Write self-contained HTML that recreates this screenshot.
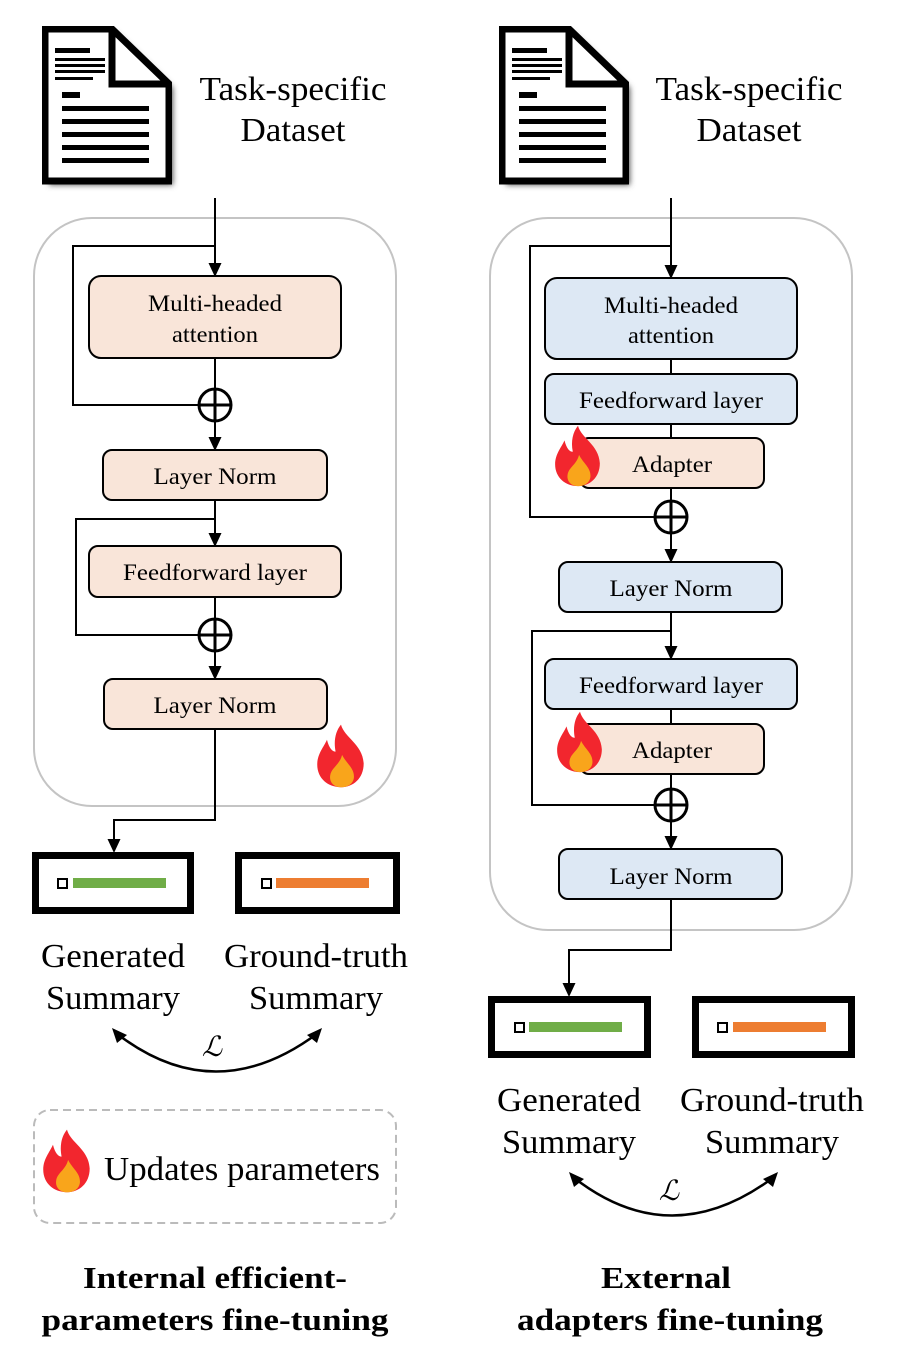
<!DOCTYPE html>
<html><head><meta charset="utf-8"><style>
html,body{margin:0;padding:0;background:#fff;}
svg{display:block;font-family:"Liberation Serif",serif;}
</style></head><body>
<svg width="897" height="1356" viewBox="0 0 897 1356" xmlns="http://www.w3.org/2000/svg">
<defs>
<marker id="ah" markerWidth="14" markerHeight="14" refX="12" refY="7" orient="auto" markerUnits="userSpaceOnUse">
<path d="M0,0.5 L14,7 L0,13.5 Z" fill="#000"/></marker>
<filter id="blur" x="-20%" y="-20%" width="140%" height="140%"><feGaussianBlur stdDeviation="3"/></filter>
<symbol id="fire" viewBox="0 0 50 60">
<path d="M25 0 C28 12 45 18 46 36 C46 50 36 58 25 58 C13 58 3 50 3 37 C3 27 9 21 12 14 C14 22 17 25 20 25 C18 15 20 6 25 0 Z" fill="#f2262e"/>
<path d="M26 28 C30 36 37 40 37 48 C37 54 32 58 25 58 C18 58 14 53 15 47 C16 40 24 37 26 28 Z" fill="#f9a51b"/>
</symbol>
<symbol id="docsh" viewBox="0 0 130 160">
<path d="M3 3 H70 L127 58 V155 H3 Z" fill="#555"/>
</symbol>
<symbol id="doc" viewBox="0 0 130 160">
<path d="M3 3 H70 L127 58 V155 H3 Z" fill="#fff" stroke="#000" stroke-width="7"/>
<path d="M70 3 V58 H127" fill="none" stroke="#000" stroke-width="7"/>
<g fill="#000">
<rect x="13" y="22" width="35" height="5"/><rect x="13" y="32" width="50" height="3"/>
<rect x="13" y="38" width="50" height="3"/><rect x="13" y="44" width="50" height="3"/>
<rect x="13" y="51" width="38" height="3"/><rect x="20" y="66" width="18" height="6"/>
<rect x="20" y="80" width="87" height="5"/><rect x="20" y="93" width="87" height="5"/>
<rect x="20" y="106" width="87" height="5"/><rect x="20" y="119" width="87" height="5"/>
<rect x="20" y="132" width="87" height="5"/></g>
</symbol>
</defs>

<!-- LEFT -->
<use href="#docsh" x="46" y="30" width="130" height="160" filter="url(#blur)"/>
<use href="#doc" x="42" y="26" width="130" height="160"/>
<g font-size="34" text-anchor="middle" lengthAdjust="spacingAndGlyphs">
<text x="293" y="100" textLength="187" lengthAdjust="spacingAndGlyphs">Task-specific</text>
<text x="293" y="141" textLength="105" lengthAdjust="spacingAndGlyphs">Dataset</text>
</g>
<rect x="34" y="218" width="362" height="588" rx="58" fill="none" stroke="#c4c4c4" stroke-width="2"/>
<g stroke="#000" stroke-width="2" fill="none">
<line x1="215" y1="198" x2="215" y2="275" marker-end="url(#ah)"/>
<polyline points="215,246 73,246 73,405 199,405"/>
<line x1="215" y1="358" x2="215" y2="389"/>
<line x1="215" y1="421" x2="215" y2="449" marker-end="url(#ah)"/>
<line x1="215" y1="500" x2="215" y2="545" marker-end="url(#ah)"/>
<polyline points="215,519 76,519 76,635 199,635"/>
<line x1="215" y1="597" x2="215" y2="619"/>
<line x1="215" y1="651" x2="215" y2="678" marker-end="url(#ah)"/>
<polyline points="215,729 215,820 114,820 114,851" marker-end="url(#ah)"/>
<circle cx="215" cy="405" r="16" stroke-width="3"/><line x1="199" y1="405" x2="231" y2="405" stroke-width="3"/><line x1="215" y1="389" x2="215" y2="421" stroke-width="3"/>
<circle cx="215" cy="635" r="16" stroke-width="3"/><line x1="199" y1="635" x2="231" y2="635" stroke-width="3"/><line x1="215" y1="619" x2="215" y2="651" stroke-width="3"/>
</g>
<g stroke="#000" stroke-width="2" fill="#f9e5d9">
<rect x="89" y="276" width="252" height="82" rx="12"/>
<rect x="103" y="450" width="224" height="50" rx="9"/>
<rect x="89" y="546" width="252" height="51" rx="9"/>
<rect x="104" y="679" width="223" height="50" rx="9"/>
</g>
<g font-size="23" text-anchor="middle">
<text x="215" y="311" textLength="134" lengthAdjust="spacingAndGlyphs">Multi-headed</text>
<text x="215" y="342" textLength="86" lengthAdjust="spacingAndGlyphs">attention</text>
<text x="215" y="484" textLength="123" lengthAdjust="spacingAndGlyphs">Layer Norm</text>
<text x="215" y="580" textLength="184" lengthAdjust="spacingAndGlyphs">Feedforward layer</text>
<text x="215" y="713" textLength="123" lengthAdjust="spacingAndGlyphs">Layer Norm</text>
</g>
<use href="#fire" x="314" y="724" width="54" height="66"/>
<rect x="35.5" y="855.5" width="155" height="55" fill="#fff" stroke="#000" stroke-width="7"/>
<rect x="58" y="879" width="9" height="9" fill="#fff" stroke="#000" stroke-width="2"/>
<rect x="73" y="878" width="93" height="10" fill="#70ad47"/>
<rect x="238.5" y="855.5" width="158" height="55" fill="#fff" stroke="#000" stroke-width="7"/>
<rect x="262" y="879" width="9" height="9" fill="#fff" stroke="#000" stroke-width="2"/>
<rect x="276" y="878" width="93" height="10" fill="#ed7d31"/>
<g font-size="34" text-anchor="middle">
<text x="113" y="967" textLength="144" lengthAdjust="spacingAndGlyphs">Generated</text>
<text x="113" y="1009" textLength="134" lengthAdjust="spacingAndGlyphs">Summary</text>
<text x="316" y="967" textLength="184" lengthAdjust="spacingAndGlyphs">Ground-truth</text>
<text x="316" y="1009" textLength="134" lengthAdjust="spacingAndGlyphs">Summary</text>
</g>
<path d="M116 1033 Q215 1110 318 1033" fill="none" stroke="#000" stroke-width="2.5"/>
<path d="M112 1028 L127 1035 L117 1043 Z" fill="#000"/>
<path d="M322 1028 L307 1035 L317 1043 Z" fill="#000"/>
<text x="212" y="1056" font-size="28" font-style="italic" text-anchor="middle">ℒ</text>
<rect x="34" y="1110" width="362" height="113" rx="16" fill="none" stroke="#bbb" stroke-width="2" stroke-dasharray="8,5"/>
<use href="#fire" x="40" y="1129" width="54" height="66"/>
<text x="104" y="1180" font-size="34" textLength="276" lengthAdjust="spacingAndGlyphs">Updates parameters</text>
<g font-size="31" font-weight="bold" text-anchor="middle">
<text x="215" y="1288" textLength="264" lengthAdjust="spacingAndGlyphs">Internal efficient-</text>
<text x="215" y="1330" textLength="347" lengthAdjust="spacingAndGlyphs">parameters fine-tuning</text>
</g>

<!-- RIGHT -->
<use href="#docsh" x="503" y="30" width="130" height="160" filter="url(#blur)"/>
<use href="#doc" x="499" y="26" width="130" height="160"/>
<g font-size="34" text-anchor="middle">
<text x="749" y="100" textLength="187" lengthAdjust="spacingAndGlyphs">Task-specific</text>
<text x="749" y="141" textLength="105" lengthAdjust="spacingAndGlyphs">Dataset</text>
</g>
<rect x="490" y="218" width="362" height="712" rx="58" fill="none" stroke="#c4c4c4" stroke-width="2"/>
<g stroke="#000" stroke-width="2" fill="none">
<line x1="671" y1="198" x2="671" y2="277" marker-end="url(#ah)"/>
<polyline points="671,246 530,246 530,517 655,517"/>
<line x1="671" y1="359" x2="671" y2="374"/>
<line x1="671" y1="424" x2="671" y2="438"/>
<line x1="671" y1="488" x2="671" y2="501"/>
<line x1="671" y1="533" x2="671" y2="561" marker-end="url(#ah)"/>
<line x1="671" y1="612" x2="671" y2="658" marker-end="url(#ah)"/>
<polyline points="671,631 532,631 532,805 655,805"/>
<line x1="671" y1="709" x2="671" y2="724"/>
<line x1="671" y1="774" x2="671" y2="789"/>
<line x1="671" y1="821" x2="671" y2="848" marker-end="url(#ah)"/>
<polyline points="671,899 671,950 569,950 569,995" marker-end="url(#ah)"/>
<circle cx="671" cy="517" r="16" stroke-width="3"/><line x1="655" y1="517" x2="687" y2="517" stroke-width="3"/><line x1="671" y1="501" x2="671" y2="533" stroke-width="3"/>
<circle cx="671" cy="805" r="16" stroke-width="3"/><line x1="655" y1="805" x2="687" y2="805" stroke-width="3"/><line x1="671" y1="789" x2="671" y2="821" stroke-width="3"/>
</g>
<g stroke="#000" stroke-width="2">
<rect x="545" y="278" width="252" height="81" rx="12" fill="#dde8f4"/>
<rect x="545" y="374" width="252" height="50" rx="9" fill="#dde8f4"/>
<rect x="580" y="438" width="184" height="50" rx="9" fill="#f9e5d9"/>
<rect x="559" y="562" width="223" height="50" rx="9" fill="#dde8f4"/>
<rect x="545" y="659" width="252" height="50" rx="9" fill="#dde8f4"/>
<rect x="580" y="724" width="184" height="50" rx="9" fill="#f9e5d9"/>
<rect x="559" y="849" width="223" height="50" rx="9" fill="#dde8f4"/>
</g>
<g font-size="23" text-anchor="middle">
<text x="671" y="313" textLength="134" lengthAdjust="spacingAndGlyphs">Multi-headed</text>
<text x="671" y="343" textLength="86" lengthAdjust="spacingAndGlyphs">attention</text>
<text x="671" y="408" textLength="184" lengthAdjust="spacingAndGlyphs">Feedforward layer</text>
<text x="672" y="472" textLength="80" lengthAdjust="spacingAndGlyphs">Adapter</text>
<text x="671" y="596" textLength="123" lengthAdjust="spacingAndGlyphs">Layer Norm</text>
<text x="671" y="693" textLength="184" lengthAdjust="spacingAndGlyphs">Feedforward layer</text>
<text x="672" y="758" textLength="80" lengthAdjust="spacingAndGlyphs">Adapter</text>
<text x="671" y="884" textLength="123" lengthAdjust="spacingAndGlyphs">Layer Norm</text>
</g>
<use href="#fire" x="552" y="425" width="52" height="64"/>
<use href="#fire" x="554" y="711" width="52" height="64"/>
<rect x="491.5" y="999.5" width="156" height="55" fill="#fff" stroke="#000" stroke-width="7"/>
<rect x="515" y="1023" width="9" height="9" fill="#fff" stroke="#000" stroke-width="2"/>
<rect x="529" y="1022" width="93" height="10" fill="#70ad47"/>
<rect x="695.5" y="999.5" width="156" height="55" fill="#fff" stroke="#000" stroke-width="7"/>
<rect x="718" y="1023" width="9" height="9" fill="#fff" stroke="#000" stroke-width="2"/>
<rect x="733" y="1022" width="93" height="10" fill="#ed7d31"/>
<g font-size="34" text-anchor="middle">
<text x="569" y="1111" textLength="144" lengthAdjust="spacingAndGlyphs">Generated</text>
<text x="569" y="1153" textLength="134" lengthAdjust="spacingAndGlyphs">Summary</text>
<text x="772" y="1111" textLength="184" lengthAdjust="spacingAndGlyphs">Ground-truth</text>
<text x="772" y="1153" textLength="134" lengthAdjust="spacingAndGlyphs">Summary</text>
</g>
<path d="M573 1177 Q671 1254 774 1177" fill="none" stroke="#000" stroke-width="2.5"/>
<path d="M569 1172 L584 1179 L574 1187 Z" fill="#000"/>
<path d="M778 1172 L763 1179 L773 1187 Z" fill="#000"/>
<text x="669" y="1200" font-size="28" font-style="italic" text-anchor="middle">ℒ</text>
<g font-size="31" font-weight="bold" text-anchor="middle">
<text x="666" y="1288" textLength="130" lengthAdjust="spacingAndGlyphs">External</text>
<text x="670" y="1330" textLength="306" lengthAdjust="spacingAndGlyphs">adapters fine-tuning</text>
</g>
</svg>
</body></html>
